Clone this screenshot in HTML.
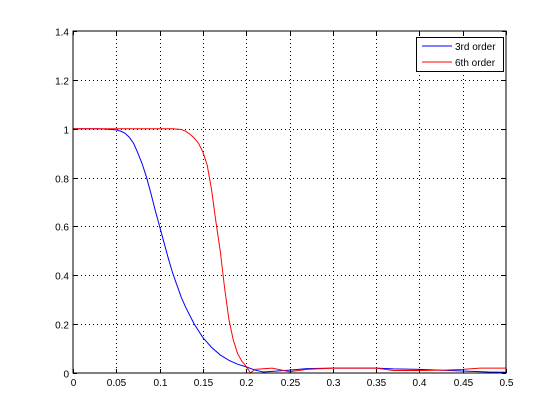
<!DOCTYPE html>
<html><head><meta charset="utf-8"><style>
html,body{margin:0;padding:0;background:#fff;}
svg{display:block;font-family:"Liberation Sans",Helvetica,sans-serif;}
</style></head><body>
<svg id="chart" width="559" height="419">
<rect x="0" y="0" width="559" height="419" fill="#fff"/>
<rect x="73" y="31" width="433" height="342" fill="#fff"/>
<g id="grid"></g>
<g id="series"></g>
<rect x="73" y="31" width="433" height="342" fill="none" stroke="#000" stroke-width="1"/>
<g id="ticks"></g>
<g>
<rect x="416.5" y="37.5" width="87" height="34" fill="#fff" stroke="#000"/>
<line x1="422" y1="46" x2="452" y2="46" stroke="#00f"/>
<text x="455" y="50" font-size="10">3rd order</text>
<line x1="422" y1="62" x2="452" y2="62" stroke="#f00"/>
<text x="455" y="66" font-size="10">6th order</text>
</g>
</svg>
<script>
const xTicks=[0,0.05,0.1,0.15,0.2,0.25,0.3,0.35,0.4,0.45,0.5];
const xTickLabels=["0","0.05","0.1","0.15","0.2","0.25","0.3","0.35","0.4","0.45","0.5"];
const yTicks=[0,0.2,0.4,0.6,0.8,1,1.2,1.4];
const yTickLabels=["0","0.2","0.4","0.6","0.8","1","1.2","1.4"];
const x3=[0,0.03,0.04,0.05,0.055,0.06,0.065,0.07,0.075,0.08,0.085,0.09,0.095,0.1,0.105,0.11,0.115,0.12,0.125,0.13,0.14,0.15,0.16,0.17,0.18,0.19,0.2,0.21,0.22,0.25,0.27,0.3,0.35,0.37,0.4,0.45,0.48,0.5];
const y3=[1,1,0.998,0.995,0.99,0.982,0.965,0.94,0.9,0.855,0.8,0.735,0.665,0.6,0.535,0.47,0.41,0.36,0.31,0.27,0.2,0.145,0.105,0.074,0.052,0.036,0.025,0.012,0.004,0.012,0.018,0.02,0.02,0.017,0.015,0.008,0.004,0.003];
const x6=[0,0.1,0.115,0.125,0.13,0.135,0.14,0.145,0.15,0.155,0.16,0.165,0.17,0.175,0.18,0.185,0.19,0.195,0.2,0.205,0.21,0.23,0.25,0.27,0.3,0.35,0.37,0.4,0.43,0.45,0.47,0.5];
const y6=[1,1,1,0.997,0.99,0.978,0.962,0.94,0.905,0.85,0.75,0.62,0.5,0.35,0.22,0.136,0.08,0.048,0.027,0,0.015,0.02,0.005,0.015,0.02,0.02,0.01,0.01,0.012,0.015,0.02,0.02];
const NS="http://www.w3.org/2000/svg";
const X0=73,X1=506,Y0=373,Y1=31;
function sx(v){return X0+(v-0)/(0.5-0)*(X1-X0);}
function sy(v){return Y0-(v-0)/(1.4-0)*(Y0-Y1);}
function mk(t,a,p){const e=document.createElementNS(NS,t);for(const k in a)e.setAttribute(k,a[k]);p.appendChild(e);return e;}
const grid=document.getElementById('grid'),ticks=document.getElementById('ticks'),series=document.getElementById('series');
xTicks.forEach((v,i)=>{
 const x=Math.round(sx(v))+0.5;
 if(i>0&&i<xTicks.length-1){const g=mk('line',{x1:x,y1:Y1,x2:x,y2:Y0,stroke:'#000','stroke-dasharray':'1,3'},grid);
 
 }
 const t1=mk('line',{x1:x,y1:Y0,x2:x,y2:Y0-4,stroke:'#000'},ticks);
 
 
 const t2=mk('line',{x1:x,y1:Y1,x2:x,y2:Y1+4,stroke:'#000'},ticks);
 
 
 const l=mk('text',{x:x,y:Y0+13,'font-size':'10','text-anchor':'middle'},ticks);l.textContent=xTickLabels[i];
 
 
});
yTicks.forEach((v,i)=>{
 const y=Math.round(sy(v))+0.5;
 if(i>0&&i<yTicks.length-1){const g=mk('line',{x1:X0,y1:y,x2:X1,y2:y,stroke:'#000','stroke-dasharray':'1,3'},grid);
 
 }
 const t1=mk('line',{x1:X0,y1:y,x2:X0+4,y2:y,stroke:'#000'},ticks);
 
 
 const t2=mk('line',{x1:X1,y1:y,x2:X1-4,y2:y,stroke:'#000'},ticks);
 
 
 const l=mk('text',{x:X0-4,y:y+4,'font-size':'10','text-anchor':'end'},ticks);l.textContent=yTickLabels[i];
 
 
});
function line(xs,ys,c,name){
 const p=mk('polyline',{points:xs.map((x,i)=>sx(x)+','+sy(ys[i])).join(' '),fill:'none',stroke:c,'stroke-width':'1'},series);
 
 
}
line(x3,y3,'#00f','line-3rd-order');
line(x6,y6,'#f00','line-6th-order');
</script>
</body></html>
